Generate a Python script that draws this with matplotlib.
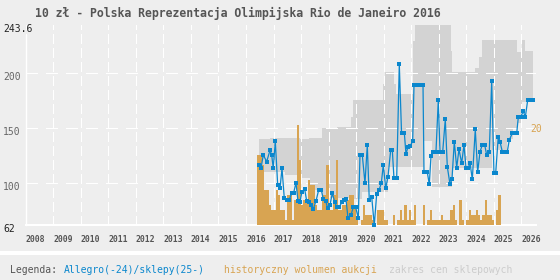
import numpy as np
import matplotlib
matplotlib.use("Agg")
import matplotlib.pyplot as plt
import matplotlib.transforms as mtransforms
from matplotlib.patches import Rectangle

# --- data ---
title = "10 zł - Polska Reprezentacja Olimpijska Rio de Janeiro 2016"

years = list(range(2008, 2027))

# Allegro / shop prices (blue line)
price_t = [2016.471, 2016.544, 2016.627, 2016.751, 2016.871, 2016.932, 2016.990, 2017.063,
           2017.150, 2017.234, 2017.307, 2017.390, 2017.477, 2017.571, 2017.659, 2017.731,
           2017.815, 2017.887, 2017.960, 2018.033, 2018.131, 2018.203, 2018.287, 2018.370,
           2018.443, 2018.541, 2018.639, 2018.733, 2018.806, 2018.893, 2018.966, 2019.049,
           2019.133, 2019.220, 2019.293, 2019.387, 2019.474, 2019.569, 2019.630, 2019.703,
           2019.812, 2019.895, 2019.982, 2020.077, 2020.139, 2020.222, 2020.320, 2020.404,
           2020.476, 2020.563, 2020.658, 2020.745, 2020.829, 2020.912, 2020.985, 2021.072,
           2021.156, 2021.254, 2021.312, 2021.373, 2021.471, 2021.566, 2021.647, 2021.748,
           2021.809, 2021.882, 2021.965, 2022.052, 2022.100, 2022.191, 2022.281, 2022.427,
           2022.463, 2022.583, 2022.655, 2022.717, 2022.800, 2022.898, 2022.982, 2023.044,
           2023.142, 2023.236, 2023.309, 2023.407, 2023.479, 2023.563, 2023.650, 2023.733,
           2023.831, 2023.915, 2023.988, 2024.071, 2024.133, 2024.217, 2024.325, 2024.412,
           2024.496, 2024.580, 2024.667, 2024.739, 2024.834, 2024.921, 2025.004, 2025.066,
           2025.160, 2025.222, 2025.306, 2025.404, 2025.487, 2025.560, 2025.669, 2025.756,
           2025.829, 2025.887, 2025.974, 2026.068, 2026.141, 2026.228, 2026.337, 2026.410]
price_v = [116.6, 113.6, 125.7, 119.7, 130.0, 125.7, 113.6, 138.4,
           98.5, 95.4, 113.6, 86.4, 84.8, 84.8, 91.5, 91.5,
           100.5, 83.9, 83.3, 92.4, 94.6, 83.9, 83.3, 80.3,
           76.4, 83.9, 93.9, 93.9, 85.7, 83.9, 77.3, 80.3,
           90.9, 83.3, 78.2, 78.2, 82.7, 84.8, 85.7, 68.2,
           71.2, 78.2, 78.2, 68.2, 125.7, 125.7, 100.0, 134.8,
           84.8, 87.8, 62.0, 90.3, 93.9, 100.0, 116.6, 95.4,
           106.0, 130.3, 130.3, 104.5, 104.5, 208.2, 146.0, 146.0,
           126.4, 133.3, 133.9, 138.5, 189.4, 189.4, 189.4, 189.4,
           110.0, 110.0, 99.1, 124.8, 128.7, 128.7, 175.5, 128.7,
           128.7, 158.2, 115.1, 99.1, 103.6, 137.9, 114.2, 130.9,
           118.2, 134.8, 114.2, 114.2, 118.7, 103.6, 149.0, 110.0,
           128.7, 134.8, 134.8, 125.7, 128.7, 192.7, 109.1, 109.1,
           142.5, 137.9, 128.7, 128.7, 128.7, 139.4, 145.4, 145.4,
           145.4, 160.0, 160.0, 165.7, 160.0, 175.5, 175.5, 175.5]

# shop price range (grey band), step changes
shop_t = [2016.47, 2016.87, 2017.42, 2017.89, 2017.96, 2018.29, 2018.32, 2018.75, 2018.76,
          2019.29, 2019.81, 2019.85, 2019.90, 2020.21, 2020.98, 2021.05, 2021.16, 2021.37,
          2021.45, 2022.07, 2022.14, 2022.46, 2022.76, 2023.43, 2023.48, 2024.31, 2024.45,
          2024.57, 2024.93, 2025.48, 2025.70, 2025.83, 2026.01, 2026.13, 2026.41]
shop_hi = [140, 141.5, 141.5, 141.5, 140, 141.5, 141.5, 150, 150,
           151, 160, 160, 175.7, 175.7, 190, 201, 201, 190,
           181, 229, 243.6, 243.6, 243.6, 220, 201.5, 205, 215,
           230, 230, 230, 230, 219.7, 230, 220, 220]
shop_lo = [110.5, 110.5, 107.5, 105, 105, 105, 94, 94, 86.6,
           86.6, 86.6, 86, 86, 92, 92, 92, 115, 115,
           115, 115, 115, 138, 97, 97, 114, 114, 114,
           114, 130, 140, 150, 155, 174, 174, 174]

# monthly auction volume (orange bars), from Jun 2016
vol_start = 2016.417
volume = [14, 14, 12, 7, 7, 4, 3, 3, 7, 6, 3, 3,
          1, 6, 6, 1, 5, 20, 13, 4, 5, 5, 9, 8,
          8, 4, 3, 3, 6, 6, 12, 3, 3, 6, 13, 3,
          3, 4, 4, 5, 6, 6, 4, 1, 0, 1, 4, 2,
          2, 2, 1, 0, 3, 3, 3, 1, 1, 0, 0, 2,
          0, 1, 3, 1, 4, 1, 3, 1, 4, 0, 0, 0,
          4, 0, 1, 3, 1, 1, 1, 1, 2, 1, 1, 1,
          3, 4, 1, 0, 5, 1, 0, 1, 3, 2, 2, 3,
          2, 1, 2, 5, 2, 2, 1, 0, 3, 6]
vol_max = 20

grid_values = [100, 150, 200]
yticks = [62, 100, 150, 200, 243.6]
ytick_labels = ["62", "100", "150", "200", "243.6"]

BG = "#eeeeee"
BLUE = "#0b87cd"
ORANGE = "#d8a452"
GREY = "#d3d3d3"
mono = "DejaVu Sans Mono"
GLW = 1.0  # grid width in points

fig = plt.figure(figsize=(5.6, 2.8), dpi=100, facecolor=BG)
W, H = 560, 280
left, right, top, bottom = 25.7, 536.0, 25.3, 225.1
ax = fig.add_axes([left / W, 1 - bottom / H, (right - left) / W, (bottom - top) / H])
ax.set_facecolor(BG)
ax.set_xlim(2008, 2026.53)
ax.set_ylim(62, 243.6)

# axes frame: white left / bottom lines only
ax.spines["top"].set_visible(False)
ax.spines["right"].set_visible(False)
ax.spines["left"].set_color("white")
ax.spines["left"].set_linewidth(GLW)
ax.spines["left"].set_bounds(62, 235)
ax.spines["bottom"].set_color("white")
ax.spines["bottom"].set_linewidth(1.5)

# grid through ticks without labels
ax.set_xticks(years)
ax.set_yticks(grid_values)
ax.tick_params(length=0, labelbottom=False, labelleft=False)
ax.set_axisbelow(False)
ax.xaxis.grid(True, color="white", lw=GLW, ls=(0, (7, 3.5)), antialiased=False)
ax.yaxis.grid(True, color="white", lw=GLW, ls=(0, (8, 5.8)), antialiased=False)

# grey band
ax.fill_between(shop_t, shop_lo, shop_hi, step="post", color=GREY, lw=0, zorder=1)

# volume bars
axv = ax.twinx()
axv.set_ylim(0, vol_max * (bottom - top) / 100.0)
axv.axis("off")
vol_t = vol_start + np.arange(len(volume)) / 12
axv.bar(vol_t, volume, width=1 / 12, align="edge", color=ORANGE, lw=0, zorder=3)
axv.annotate(str(vol_max), xy=(1.0, vol_max), xycoords=("axes fraction", "data"),
             xytext=(0, -3), textcoords="offset points", ha="center", va="center",
             color=ORANGE, fontsize=7, family=mono, annotation_clip=False)

# price line
axl = ax.twinx()
axl.set_ylim(62, 243.6)
axl.axis("off")
axl.plot(price_t, price_v, color=BLUE, lw=0.9, marker="s", ms=2.8, mew=0, zorder=4,
         clip_on=False)

# y labels
for v, lbl in zip(yticks, ytick_labels):
    col = "#222222" if lbl in ("62", "243.6") else "#666666"
    ax.annotate(lbl, xy=(3 / W, v), xycoords=("figure fraction", "data"),
                xytext=(0, -2.6), textcoords="offset points", ha="left", va="center",
                color=col, fontsize=7, family=mono, annotation_clip=False)

# year labels
trans = mtransforms.blended_transform_factory(ax.transData, fig.transFigure)
for y in years:
    ax.text(y, 1 - 240 / H, str(y), transform=trans, ha="left", va="center",
            fontsize=5.9, family=mono, fontweight="bold", color="#555555")

# title
fig.text(34.6 / W, 1 - 13 / H, title, ha="left", va="center", fontsize=8.3,
         family=mono, fontweight="bold", color="#555555")

# footer separator and legend
fig.patches.append(Rectangle((0, 1 - 254.6 / H), 1, 3.2 / H, transform=fig.transFigure,
                             facecolor="white", edgecolor="none"))
ly = 1 - 270 / H
fig.text(9.6 / W, ly, "Legenda:", ha="left", va="center", fontsize=7, family=mono,
         color="#555555")
fig.text(64.3 / W, ly, "Allegro(-24)/sklepy(25-)", ha="left", va="center", fontsize=7,
         family=mono, color=BLUE)
fig.text(224 / W, ly, "historyczny wolumen aukcji", ha="left", va="center", fontsize=7,
         family=mono, color=ORANGE)
fig.text(389 / W, ly, "zakres cen sklepowych", ha="left", va="center", fontsize=7,
         family=mono, color="#cccccc")

fig.savefig("out.png", dpi=100, facecolor=BG)
